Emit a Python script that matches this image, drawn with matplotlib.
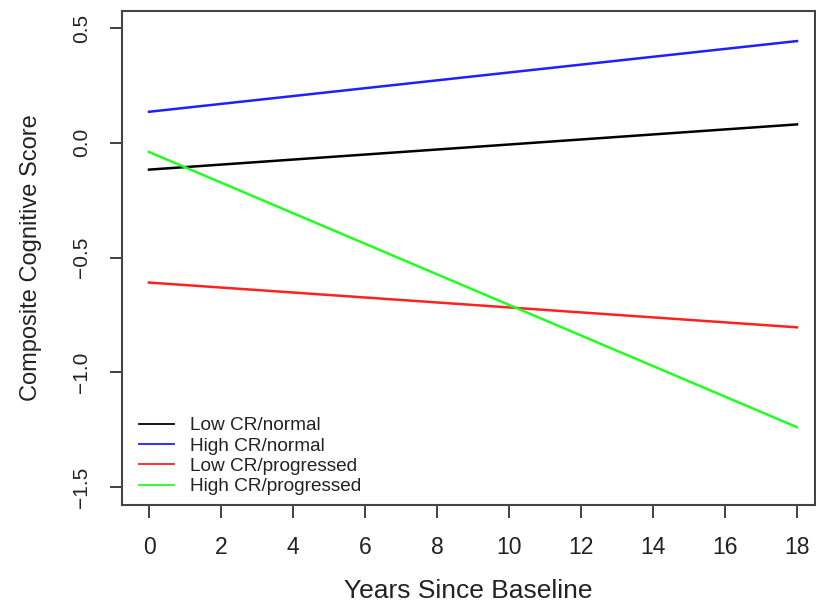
import matplotlib
matplotlib.use("Agg")
import matplotlib.pyplot as plt

plt.rcParams['font.family'] = ['Liberation Sans', 'DejaVu Sans']

years = [0, 18]
labels = ["Low CR/normal", "High CR/normal", "Low CR/progressed", "High CR/progressed"]
low_normal = [-0.117, 0.080]
high_normal = [0.135, 0.443]
low_progressed = [-0.609, -0.804]
high_progressed = [-0.040, -1.239]
colors = ["black", "#2020FF", "#FF2020", "#20FF20"]
xticks = list(range(0, 19, 2))
yticks = [0.5, 0.0, -0.5, -1.0, -1.5]

fig = plt.figure(figsize=(8.16, 6.04), dpi=100)
ax = fig.add_axes([122/816, 1-505/604, (815-122)/816, (505-11)/604])

for vals, lab, c in zip([low_normal, high_normal, low_progressed, high_progressed], labels, colors):
    ax.plot(years, vals, color=c, lw=1.8, label=lab)

ax.set_xlim(-0.75, 18.5)
ax.set_ylim(-1.578, 0.574)
ax.set_xticks(xticks)
ax.set_xticklabels([str(t) for t in xticks])
ax.set_yticks(yticks)
ax.set_yticklabels([f"{t:.1f}".replace("-", "\u2212") for t in yticks], rotation=90, va='center')
ax.tick_params(axis='both', length=9, width=1.3, color='#333333', labelcolor='#222222')
ax.tick_params(axis='x', labelsize=16.5, pad=13)
ax.tick_params(axis='y', labelsize=15, pad=13)
for s in ax.spines.values():
    s.set_linewidth(1.5)
    s.set_color('#444444')

ax.set_xlabel("Years Since Baseline", fontsize=19, labelpad=15, color='#222222')
ax.set_ylabel("Composite Cognitive Score", fontsize=17, labelpad=22, color='#222222')

leg = ax.legend(loc='lower left', bbox_to_anchor=(0.0, -0.015), frameon=False, fontsize=13.7,
                handlelength=1.85, handletextpad=0.8, labelspacing=0.16, borderaxespad=0.5)
for ln in leg.get_lines():
    ln.set_linewidth(1.3)
for t in leg.get_texts():
    t.set_color('#222222')

fig.savefig("out.png", dpi=100)
